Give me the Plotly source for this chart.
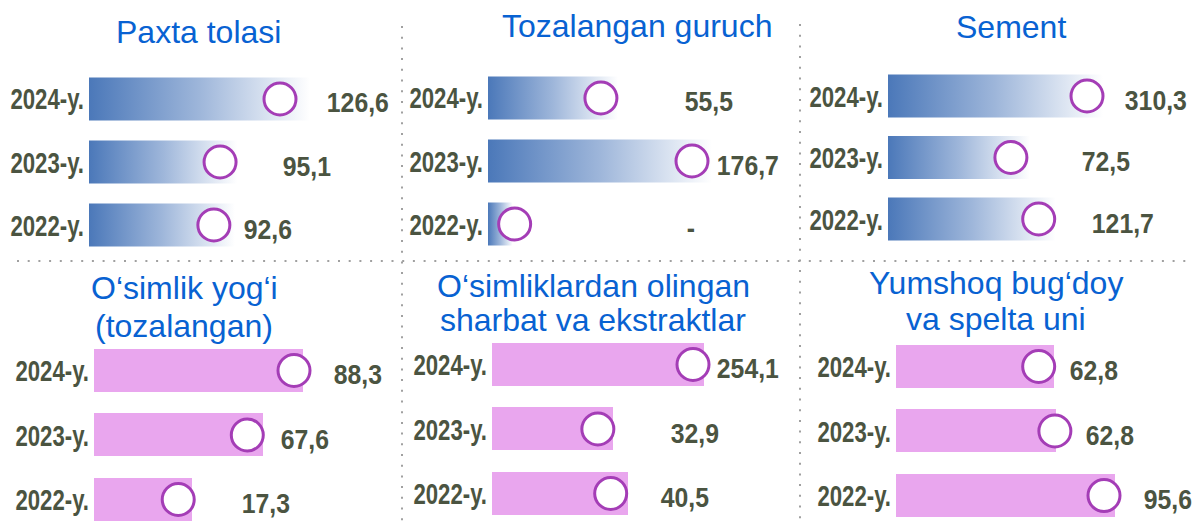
import json
import plotly.graph_objects as go

# ---------------- data ----------------
years = ["2024-y.", "2023-y.", "2022-y."]

paxta_values = [126.6, 95.1, 92.6]
guruch_values = [55.5, 176.7, None]
sement_values = [310.3, 72.5, 121.7]
yog_values = [88.3, 67.6, 17.3]
sharbat_values = [254.1, 32.9, 40.5]
un_values = [62.8, 62.8, 95.6]

# drawn bar lengths (% of the longest bar in each panel)
paxta_bar = [100, 67, 66]
guruch_bar = [58, 100, 11]
sement_bar = [100, 66, 78]
yog_bar = [100, 81, 47]
sharbat_bar = [100, 57, 64]
un_bar = [72, 73, 100]

titles = [
    ["Paxta tolasi"],
    ["Tozalangan guruch"],
    ["Sement"],
    ["O‘simlik yog‘i", "(tozalangan)"],
    ["O‘simliklardan olingan", "sharbat va ekstraktlar"],
    ["Yumshoq bug‘doy", "va spelta uni"],
]

# ---------------- layout config (pixels) ----------------
W, H = 1192, 523
TXT = "#4B5441"
BLUE_T = "#0862D2"
PINK = "#E9A6EE"
RING = "#A43DB6"
NARROW = "Arial Narrow, Liberation Sans, Arial, sans-serif"
REG = "Liberation Sans, Arial, sans-serif"
YEAR_SIZE, VAL_SIZE = 30, 28
NARROW_SCALE = {YEAR_SIZE: 0.74, VAL_SIZE: 0.885}

panels = [
    dict(vals=paxta_values, bars=paxta_bar, grad=True, x0=89, full=221, y0=99, pitch=63,
         tx=198, ty=[31.5], back=[30, 17, 21], gap=[15, 44, 7]),
    dict(vals=guruch_values, bars=guruch_bar, grad=True, x0=488, full=224, y0=98, pitch=63,
         tx=637, ty=[26.5], back=[17, 20, -2], gap=[65, 3, 172]),
    dict(vals=sement_values, bars=sement_bar, grad=True, x0=888, full=215, y0=96, pitch=61.5,
         tx=1011, ty=[27], back=[16, 19, 17], gap=[20, 50, 34]),
    dict(vals=yog_values, bars=yog_bar, grad=False, x0=94, full=209, y0=370.5, pitch=64.5,
         tx=184, ty=[288, 326], back=[9, 16, 14], gap=[29, 16, 48]),
    dict(vals=sharbat_values, bars=sharbat_bar, grad=False, x0=492, full=212, y0=364.5, pitch=64.5,
         tx=593, ty=[285.5, 320], back=[11, 15, 17], gap=[11, 56, 31]),
    dict(vals=un_values, bars=un_bar, grad=False, x0=896, full=219, y0=366.5, pitch=64.5,
         tx=996, ty=[283, 319], back=[15, 1, 11], gap=[14, 28, 27]),
]

SPAN = 290
BAR_H = 43


def fmt(v):
    return "-" if v is None else f"{v:.1f}".replace(".", ",")


fig = go.Figure()
annotations = []
layout_axes = {}

for k, p in enumerate(panels, start=1):
    sfx = "" if k == 1 else str(k)
    xa, ya = "x" + sfx, "y" + sfx
    upx = 100.0 / p["full"]  # data units per pixel
    n = len(years)
    top = p["y0"] - p["pitch"] / 2
    last_c = p["y0"] + (n - 1) * p["pitch"]
    bot = min(last_c + BAR_H / 2 + 1, H)
    r_bot = (n - 1) + (bot - last_c) / p["pitch"]
    layout_axes["xaxis" + sfx] = dict(domain=[p["x0"] / W, (p["x0"] + SPAN) / W],
                                      range=[0, SPAN * upx], visible=False, fixedrange=True)
    layout_axes["yaxis" + sfx] = dict(domain=[1 - bot / H, 1 - top / H],
                                      range=[r_bot, -0.5], visible=False, fixedrange=True)
    hh = BAR_H / 2 / p["pitch"]
    ypos = list(range(n))

    if p["grad"]:
        for i, L in zip(ypos, p["bars"]):
            fig.add_trace(go.Scatter(
                x=[0, L, L, 0, 0], y=[i - hh, i - hh, i + hh, i + hh, i - hh],
                xaxis=xa, yaxis=ya, mode="lines", fill="toself",
                line=dict(width=0, color="rgba(0,0,0,0)"),
                fillgradient=dict(type="horizontal",
                                  colorscale=[[0, "#4B78B9"], [0.5, "#9EB6DA"], [1, "#FFFFFF"]]),
                hoverinfo="skip", showlegend=False))
    else:
        fig.add_trace(go.Bar(
            x=p["bars"], y=ypos, orientation="h", width=2 * hh,
            marker=dict(color=PINK, line=dict(width=0)),
            xaxis=xa, yaxis=ya, hoverinfo="skip", showlegend=False))

    # rings
    cx = [max(L - b * upx, 0) for L, b in zip(p["bars"], p["back"])]
    fig.add_trace(go.Scatter(
        x=cx, y=ypos, xaxis=xa, yaxis=ya, mode="markers",
        marker=dict(size=32, color="white", line=dict(color=RING, width=3)),
        cliponaxis=False, hoverinfo="skip", showlegend=False))

    for i, (yr, v, L, g) in enumerate(zip(years, p["vals"], p["bars"], p["gap"])):
        annotations.append(dict(x=0, y=i, xref=xa, yref=ya, text=yr, showarrow=False,
                                xanchor="right", yanchor="middle", xshift=-3, yshift=0,
                                font=dict(family=NARROW, size=YEAR_SIZE, color=TXT, weight="bold")))
        annotations.append(dict(x=L, y=i, xref=xa, yref=ya, text=fmt(v), showarrow=False,
                                xanchor="left", yanchor="middle", xshift=g, yshift=-4,
                                font=dict(family=NARROW, size=VAL_SIZE, color=TXT, weight="bold")))

    for line_txt, ty in zip(titles[k - 1], p["ty"]):
        annotations.append(dict(x=p["tx"] / W, y=1 - ty / H, xref="paper", yref="paper",
                                text=line_txt, showarrow=False, xanchor="center", yanchor="middle",
                                font=dict(family=REG, size=32, color=BLUE_T)))

DOT = dict(color="#A0A0A0", width=2, dash="2px,8.7px")
shapes = [
    dict(type="line", xref="paper", yref="paper", x0=402 / W, x1=402 / W, y0=1 - 26 / H, y1=0, line=DOT),
    dict(type="line", xref="paper", yref="paper", x0=800 / W, x1=800 / W, y0=1 - 24 / H, y1=0, line=DOT),
    dict(type="line", xref="paper", yref="paper", x0=17 / W, x1=1, y0=1 - 261 / H, y1=1 - 261 / H, line=DOT),
]

fig.update_layout(
    width=W, height=H, margin=dict(l=0, r=0, t=0, b=0),
    paper_bgcolor="white", plot_bgcolor="rgba(0,0,0,0)",
    annotations=annotations, shapes=shapes, showlegend=False,
    bargap=0, **layout_axes)

# page without default body margin; bold labels drawn narrow (Arial-Narrow-like width)
post = """
document.body.style.margin = '0';
var SCALES = __SCALES__;
var gd = document.getElementById('{plot_id}');
var anns = gd._fullLayout.annotations;
gd.querySelectorAll('g.annotation').forEach(function(g) {
  var a = anns[+g.getAttribute('data-index')];
  if (!a || !a.font || String(a.font.family).indexOf('Narrow') < 0) return;
  var s = SCALES[String(a.font.size)] || 0.82;
  var tg = g.querySelector('g.annotation-text-g');
  if (!tg) return;
  var bb = tg.getBBox();
  var ax = a.xanchor === 'right' ? bb.x + bb.width : (a.xanchor === 'left' ? bb.x : bb.x + bb.width / 2);
  var t = tg.getAttribute('transform') || '';
  tg.setAttribute('transform', t + ' translate(' + ax + ',0) scale(' + s + ',1) translate(' + (-ax) + ',0)');
});
""".replace("__SCALES__", json.dumps({str(k): v for k, v in NARROW_SCALE.items()}))

fig.write_html("out.html", config=dict(displayModeBar=False), post_script=post)
